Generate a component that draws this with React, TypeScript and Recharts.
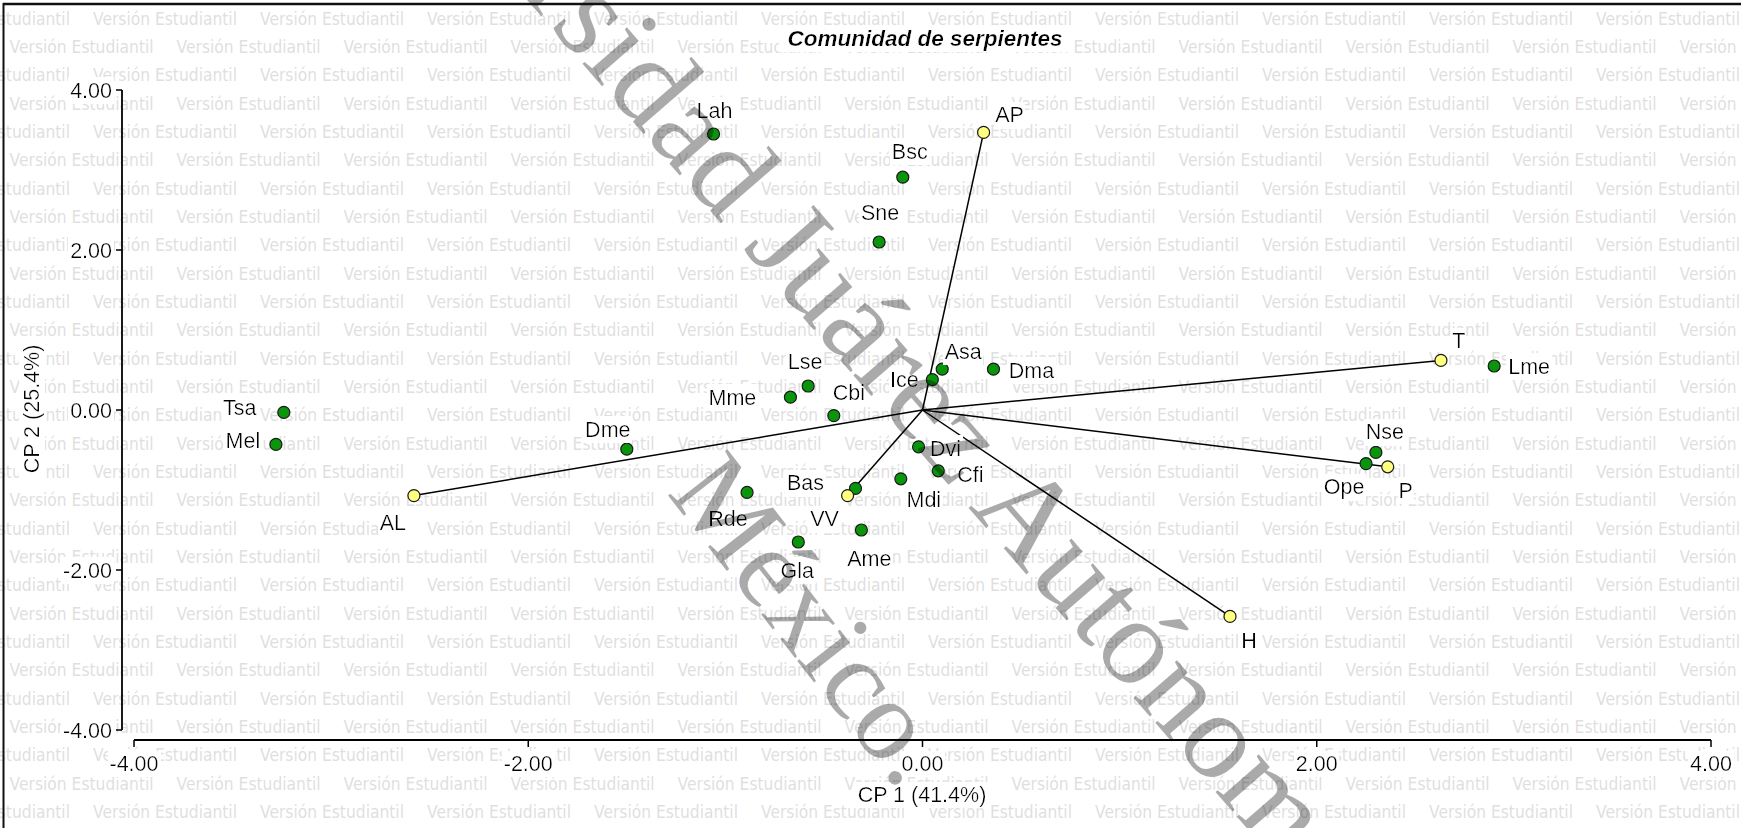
import React from 'react';
import { ScatterChart, Scatter, XAxis, YAxis, ReferenceLine } from 'recharts';

// species scores (CP1, CP2)
const species = ['Lah', 'Bsc', 'Sne', 'Tsa', 'Mel', 'Dme', 'Lse', 'Mme', 'Cbi', 'Ice', 'Asa', 'Dma', 'Dvi', 'Cfi', 'Mdi', 'Bas', 'Rde', 'Ame', 'Gla', 'Lme', 'Nse', 'Ope'];
const speciesCP1 = [-1.06, -0.10, -0.22, -3.24, -3.28, -1.50, -0.58, -0.67, -0.45, 0.05, 0.10, 0.36, -0.02, 0.08, -0.11, -0.34, -0.89, -0.31, -0.63, 2.90, 2.30, 2.25];
const speciesCP2 = [3.45, 2.91, 2.10, -0.03, -0.43, -0.49, 0.30, 0.16, -0.07, 0.38, 0.51, 0.51, -0.46, -0.76, -0.86, -0.98, -1.03, -1.50, -1.65, 0.55, -0.53, -0.67];

// environmental variables (vectors from origin)
const variables = ['AP', 'AL', 'T', 'P', 'H', 'VV'];
const varCP1 = [0.31, -2.58, 2.63, 2.36, 1.56, -0.38];
const varCP2 = [3.47, -1.07, 0.62, -0.71, -2.58, -1.07];

const axisTicks = [-4, -2, 0, 2, 4];

// label placement around each marker (px)
const LABEL_OFFSET: Record<string, [number, number]> = {
  Lah: [1, -24], AP: [26, -18], Bsc: [7, -26], Sne: [1, -30], Tsa: [-44, -5], Mel: [-33, -4],
  AL: [-21, 27], Dme: [-19, -20], Lse: [-3, -25], Mme: [-58, 0], Cbi: [15, -23], Ice: [-28, 0],
  Asa: [21, -18], Dma: [38, 1], Dvi: [27, 1], Cfi: [32, 3], Mdi: [23, 20], Bas: [-50, -6],
  VV: [-23, 23], Rde: [-19, 26], Ame: [8, 28], Gla: [-1, 28], T: [18, -20], Lme: [35, 0],
  Nse: [9, -21], Ope: [-22, 23], P: [18, 23], H: [19, 24],
};

const speciesData = species.map((name, i) => ({ name, x: speciesCP1[i], y: speciesCP2[i] }));
const varData = variables.map((name, i) => ({ name, x: varCP1[i], y: varCP2[i] }));

const W = 1741;
const H = 828;
const FONT = "'Liberation Sans', Arial, sans-serif";
const FS = 21.5;

const PLOT_LEFT = 122;
const PLOT_RIGHT = 1711;
const PLOT_TOP = 90;
const PLOT_BOTTOM = 740;
const PAD_LEFT = 12;
const PAD_BOTTOM = 10;
// where the detached axis lines sit, in data units
const X_LINE_AT = -4 - PAD_LEFT / ((PLOT_RIGHT - PLOT_LEFT - PAD_LEFT) / 8);
const Y_LINE_AT = -4 - PAD_BOTTOM / ((PLOT_BOTTOM - PLOT_TOP - PAD_BOTTOM) / 8);

const makeMarker = (fill: string) => (props: any) => {
  const { cx, cy, payload } = props;
  const [dx, dy] = LABEL_OFFSET[payload.name] || [0, -22];
  return (
    <g>
      <circle cx={cx} cy={cy} r={6} fill={fill} stroke="#1a1a1a" strokeWidth={1.2} />
      <text x={cx + dx} y={cy + dy} dy="0.36em" textAnchor="middle" fontFamily={FONT} fontSize={FS}
        fill="#000" filter="url(#textbg)">{payload.name}</text>
    </g>
  );
};

const XTick = (props: any) => {
  const { x, payload } = props;
  return (
    <text x={x} y={771} textAnchor="middle" fontFamily={FONT} fontSize={FS} fill="#000" filter="url(#textbg)">
      {Number(payload.value).toFixed(2)}
    </text>
  );
};

const YTick = (props: any) => {
  const { y, payload } = props;
  return (
    <text x={112} y={y} dy="0.36em" textAnchor="end" fontFamily={FONT} fontSize={FS} fill="#000" filter="url(#textbg)">
      {Number(payload.value).toFixed(2)}
    </text>
  );
};

function StudentWatermark() {
  const rows = [];
  for (let k = 0; k < 30; k++) {
    const yc = 18.3 + 28.33 * k;
    const phase = k % 2 === 0 ? 93 : 9.6;
    for (let n = -1; n < 11; n++) {
      rows.push(
        <text key={`${k}-${n}`} x={phase + 167 * n} y={yc + 6.4} fontFamily="'DejaVu Sans', sans-serif" fontSize={17.5}
          textLength={144} lengthAdjust="spacingAndGlyphs" fill="#dfdfdf">Versión Estudiantil</text>
      );
    }
  }
  return <g>{rows}</g>;
}

export default function App() {
  return (
    <div style={{ position: 'absolute', left: 0, top: 0, width: W, height: H, overflow: 'hidden', background: '#fff' }}>
      <svg width={W} height={H} style={{ position: 'absolute', left: 0, top: 0 }}>
        <defs>
          <filter id="textbg" x="-0.03" y="-0.04" width="1.06" height="1.08">
            <feFlood floodColor="#ffffff" result="bg" />
            <feMerge>
              <feMergeNode in="bg" />
              <feMergeNode in="SourceGraphic" />
            </feMerge>
          </filter>
        </defs>
        <StudentWatermark />
        <text x={925} y={46} textAnchor="middle" fontFamily={FONT} fontSize={22.5} fontWeight="bold" fontStyle="italic"
          fill="#000" filter="url(#textbg)">Comunidad de serpientes</text>
        <text x={922} y={802} textAnchor="middle" fontFamily={FONT} fontSize={FS} fill="#000" filter="url(#textbg)">CP 1 (41.4%)</text>
        <text transform="translate(39,409) rotate(-90)" x={0} y={0} textAnchor="middle" fontFamily={FONT} fontSize={FS}
          fill="#000" filter="url(#textbg)">CP 2 (25.4%)</text>
      </svg>

      <div style={{ position: 'absolute', left: 0, top: 0 }}>
        <ScatterChart width={W} height={H} margin={{ top: PLOT_TOP, right: W - PLOT_RIGHT, bottom: 0, left: 0 }}>
          <XAxis type="number" dataKey="x" domain={[-4, 4]} ticks={axisTicks} allowDataOverflow
            height={H - PLOT_BOTTOM} padding={{ left: PAD_LEFT, right: 0 }} axisLine={false}
            tickLine={{ stroke: '#000', strokeWidth: 1.5 }} tickSize={7} tick={<XTick />} />
          <YAxis type="number" dataKey="y" domain={[-4, 4]} ticks={axisTicks} allowDataOverflow
            width={PLOT_LEFT} padding={{ top: 0, bottom: PAD_BOTTOM }} axisLine={false}
            tickLine={{ stroke: '#000', strokeWidth: 1.5 }} tickSize={6} tick={<YTick />} />
          <ReferenceLine segment={[{ x: X_LINE_AT, y: -4 }, { x: X_LINE_AT, y: 4 }]} stroke="#000" strokeWidth={1.8} ifOverflow="visible" />
          <ReferenceLine segment={[{ x: -4, y: Y_LINE_AT }, { x: 4, y: Y_LINE_AT }]} stroke="#000" strokeWidth={1.8} ifOverflow="visible" />
          {varData.map((v) => (
            <ReferenceLine key={v.name} segment={[{ x: 0, y: 0 }, { x: v.x, y: v.y }]} stroke="#000" strokeWidth={1.5} ifOverflow="visible" />
          ))}
          <Scatter data={speciesData} shape={makeMarker('#0a960a')} isAnimationActive={false} />
          <Scatter data={varData} shape={makeMarker('#ffff80')} isAnimationActive={false} />
        </ScatterChart>
      </div>

      <svg width={W} height={H} style={{ position: 'absolute', left: 0, top: 0, pointerEvents: 'none' }}>
        <g fontFamily="'Liberation Serif', serif" fill="#000" opacity={0.33}>
          <text transform="translate(321,-237) rotate(49)" fontSize={125}>Universidad Juárez Autónoma de Tabasco</text>
          <text transform="translate(666,493) rotate(52)" fontSize={115}>México.</text>
        </g>
        <line x1={3.5} y1={3} x2={3.5} y2={H} stroke="#111" strokeWidth={2} />
        <line x1={3} y1={4} x2={W} y2={4} stroke="#111" strokeWidth={2.5} />
      </svg>
    </div>
  );
}
